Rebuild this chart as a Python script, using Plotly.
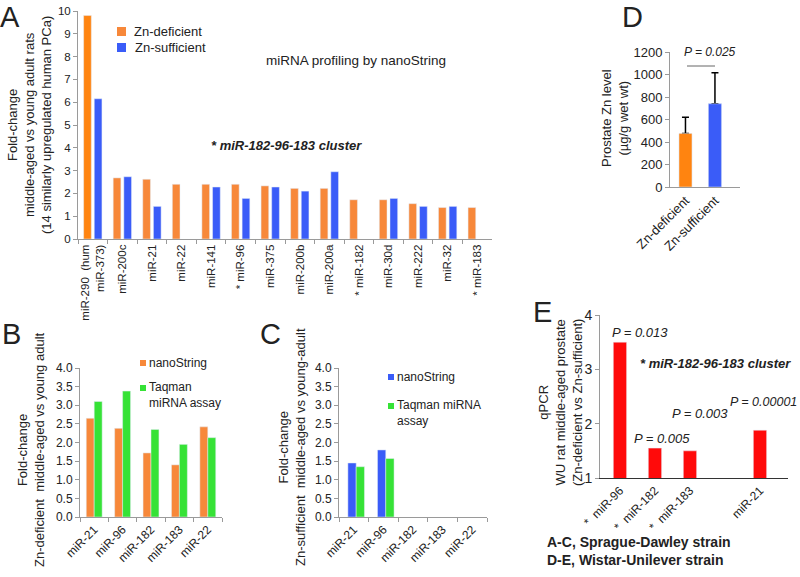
import plotly.graph_objects as go

W, H = 800, 577
def px(x):
    return x / W
def py(y):
    return 1 - y / H

FONT = "Liberation Sans, Arial, sans-serif"
ORANGE = "#F7883A"
ORANGE1 = "#FF8410"
BLUE = "#3A5CF8"
GREEN = "#36E236"
RED = "#FF0A0A"
AXC = "#9A9A9A"

# ---- Panel A data ----
a_cats = ["miR-290  (hum<br>miR-373)", "miR-200c", "miR-21", "miR-22", "miR-141", "* miR-96",
          "miR-375", "miR-200b", "miR-200a", "* miR-182", "miR-30d", "miR-222", "miR-32", "* miR-183"]
a_def = [9.8, 2.68, 2.62, 2.4, 2.4, 2.4, 2.33, 2.22, 2.22, 1.72, 1.72, 1.55, 1.38, 1.38]
a_suf = [6.15, 2.73, 1.43, None, 2.28, 1.78, 2.28, 2.1, 2.95, None, 1.78, 1.43, 1.43, None]

# ---- Panel B / C data ----
bc_cats = ["miR-21", "miR-96", "miR-182", "miR-183", "miR-22"]
b_nano = [2.65, 2.38, 1.72, 1.4, 2.42]
b_taq = [3.1, 3.38, 2.35, 1.95, 2.13]
c_nano = [1.45, 1.8, None, None, None]
c_taq = [1.35, 1.57, None, None, None]

# ---- Panel D data ----
d_cats = ["Zn-deficient", "Zn-sufficient"]
d_vals = [475, 740]
d_sd = [145, 275]

# ---- Panel E data ----
e_labels = ["*  miR-96", "*  miR-182", "*  miR-183", "miR-21"]
e_pos = [0, 1, 2, 4]
e_vals = [3.5, 1.55, 1.5, 1.88]
e_p = ["P = 0.013", "P = 0.005", "P = 0.003", "P = 0.00001"]

fig = go.Figure()

# A
a_colors = [ORANGE1] + [ORANGE] * (len(a_def) - 1)
fig.add_trace(go.Bar(x=a_cats, y=a_def, marker_color=a_colors, width=0.26, offset=-0.31,
                     xaxis="x", yaxis="y", name="Zn-deficient"))
fig.add_trace(go.Bar(x=a_cats, y=a_suf, marker_color=BLUE, width=0.26, offset=0.05,
                     xaxis="x", yaxis="y", name="Zn-sufficient"))
# D
fig.add_trace(go.Bar(x=[0, 1], y=d_vals, marker_color=[ORANGE1, BLUE], width=0.44,
                     error_y=dict(type="data", symmetric=False, array=d_sd, arrayminus=[0, 0],
                                  color="black", thickness=1.5, width=3.5),
                     xaxis="x2", yaxis="y2"))
fig.add_trace(go.Bar(x=[0, 1], y=d_vals, marker_color=[ORANGE1, BLUE], width=0.44,
                     xaxis="x2", yaxis="y2", hoverinfo="skip"))
# B
fig.add_trace(go.Bar(x=bc_cats, y=b_nano, marker_color=ORANGE, width=0.28, offset=-0.28,
                     xaxis="x3", yaxis="y3", name="nanoString"))
fig.add_trace(go.Bar(x=bc_cats, y=b_taq, marker_color=GREEN, width=0.28, offset=0.0,
                     xaxis="x3", yaxis="y3", name="Taqman miRNA assay"))
# C
fig.add_trace(go.Bar(x=bc_cats, y=c_nano, marker_color=BLUE, width=0.28, offset=-0.2,
                     xaxis="x4", yaxis="y4", name="nanoString"))
fig.add_trace(go.Bar(x=bc_cats, y=c_taq, marker_color=GREEN, width=0.28, offset=0.08,
                     xaxis="x4", yaxis="y4", name="Taqman miRNA assay"))
# E
fig.add_trace(go.Bar(x=e_pos, y=e_vals, marker_color=RED, width=0.38,
                     text=e_p, textposition="none",
                     xaxis="x5", yaxis="y5"))

axbase = dict(showline=True, linecolor=AXC, linewidth=1, showgrid=False, zeroline=False,
              automargin=False,
              ticks="outside", ticklen=4, tickcolor=AXC, tickfont=dict(family=FONT, size=12, color="#222"))

lay = dict(
    width=W, height=H, autosize=False, margin=dict(l=0, r=0, t=0, b=0, pad=0),
    paper_bgcolor="white", plot_bgcolor="white", showlegend=False, barmode="overlay",
    font=dict(family=FONT, color="#222"),
)
lay["xaxis"] = dict(axbase, domain=[px(78), px(492)], anchor="y", type="category",
                    range=[-0.5, 13.5], tickson="boundaries", tickangle=-90,
                    tickfont=dict(family=FONT, size=11.5, color="#222"))
lay["yaxis"] = dict(axbase, domain=[py(239), py(11)], anchor="x", range=[0, 10], dtick=1,
                    tickfont=dict(family=FONT, size=11.5, color="#222"))
lay["xaxis2"] = dict(axbase, domain=[px(670), px(740)], anchor="y2", range=[-0.525, 1.85],
                     tickvals=[0, 1], ticktext=d_cats, ticks="", tickangle=-45,
                     tickfont=dict(family=FONT, size=13, color="#222"))
lay["yaxis2"] = dict(axbase, domain=[py(187), py(52)], anchor="x2", range=[0, 1200], dtick=200,
                     tickfont=dict(family=FONT, size=13, color="#222"))
lay["xaxis3"] = dict(axbase, domain=[px(80), px(222)], anchor="y3", type="category",
                     range=[-0.5, 4.5], tickson="boundaries", tickangle=-45)
lay["yaxis3"] = dict(axbase, domain=[py(517), py(368)], anchor="x3", range=[0, 4], dtick=0.5,
                     tickformat=".1f")
lay["xaxis4"] = dict(axbase, domain=[px(339), px(487)], anchor="y4", type="category",
                     range=[-0.5, 4.5], tickson="boundaries", tickangle=-45)
lay["yaxis4"] = dict(axbase, domain=[py(517), py(368)], anchor="x4", range=[0, 4], dtick=0.5,
                     tickformat=".1f")
lay["xaxis5"] = dict(axbase, domain=[px(600), px(788)], anchor="y5", range=[-0.57, 4.8],
                     tickvals=e_pos, ticktext=e_labels, ticks="", tickangle=-45,
                     linecolor="#333", tickfont=dict(family=FONT, size=12, color="#222"))
lay["yaxis5"] = dict(axbase, domain=[py(478), py(315)], anchor="x5", range=[1, 4], dtick=1,
                     tickfont=dict(family=FONT, size=14, color="#222"))
fig.update_layout(**lay)

ann = []
def text(x, y, s, size=13, xanchor="center", yanchor="middle", angle=0, align="center", color="#222"):
    ann.append(dict(x=px(x), y=py(y), xref="paper", yref="paper", text=s, showarrow=False,
                    xanchor=xanchor, yanchor=yanchor, textangle=angle, align=align,
                    font=dict(family=FONT, size=size, color=color)))

# panel letters
text(10, 17, "A", size=29)
text(11, 334, "B", size=29)
text(270, 334, "C", size=29)
text(632, 17, "D", size=29)
text(542, 312, "E", size=29)

# A texts
text(30, 125, "Fold-change<br>middle-aged vs young adult rats<br>(14 similarly upregulated human PCa)",
     size=13, angle=-90)
text(356, 60, "miRNA profiling by nanoString", size=13.5)
text(286, 145, "<b><i>* miR-182-96-183 cluster</i></b>", size=13)
text(132, 31.5, "Zn-deficient", size=13, xanchor="left")
text(133, 47.5, "Zn-sufficient", size=13, xanchor="left")

# B texts
text(31, 450, "Fold-change<br>Zn-deficient  middle-aged vs young adult", size=13, angle=-90)
text(147, 363, "nanoString", size=12, xanchor="left")
text(147, 395, "Taqman<br>miRNA assay", size=12, xanchor="left", align="left")

# C texts
text(292, 447, "Fold-change<br>Zn-sufficient  middle-aged vs young-adult", size=13, angle=-90)
text(395, 377, "nanoString", size=12, xanchor="left")
text(395, 413, "Taqman miRNA<br>assay", size=12, xanchor="left", align="left")

# D texts
text(615, 118, "Prostate Zn level<br>(µg/g wet wt)", size=13, angle=-90)
text(710, 52, "<i>P = 0.025</i>", size=12)

# E texts
text(560, 403, "qPCR<br>WU rat middle-aged prostate<br>(Zn-deficient vs Zn-sufficient)", size=13, angle=-90)
text(640, 332, "<i>P = 0.013</i>", size=13)
text(662, 438, "<i>P = 0.005</i>", size=13)
text(700, 413, "<i>P = 0.003</i>", size=13)
text(799, 402, "<i>P = 0.00001</i>", size=12.5, xanchor="right")
text(715, 363, "<b><i>* miR-182-96-183 cluster</i></b>", size=13)
text(545, 542, "<b>A-C, Sprague-Dawley strain</b>", size=14, xanchor="left")
text(545, 560, "<b>D-E, Wistar-Unilever strain</b>", size=14, xanchor="left")

fig.update_layout(annotations=ann)

# legend swatches and P-value bar
shapes = []
def sq(cx, cy, s, color):
    shapes.append(dict(type="rect", xref="paper", yref="paper",
                       x0=px(cx - s / 2), x1=px(cx + s / 2), y0=py(cy + s / 2), y1=py(cy - s / 2),
                       fillcolor=color, line=dict(width=0)))
sq(121.5, 31.5, 9, ORANGE)
sq(121.5, 47.5, 9, BLUE)
sq(143, 363, 6, ORANGE)
sq(143, 388, 6, GREEN)
sq(391, 377, 6, BLUE)
sq(391, 406, 6, GREEN)
shapes.append(dict(type="line", xref="paper", yref="paper", x0=px(687), x1=px(715), y0=py(66), y1=py(66),
                   line=dict(color="#666", width=1)))
fig.update_layout(shapes=shapes)

fig.write_html("out.html", config={"displayModeBar": False},
               post_script="document.body.style.margin='0px';")
